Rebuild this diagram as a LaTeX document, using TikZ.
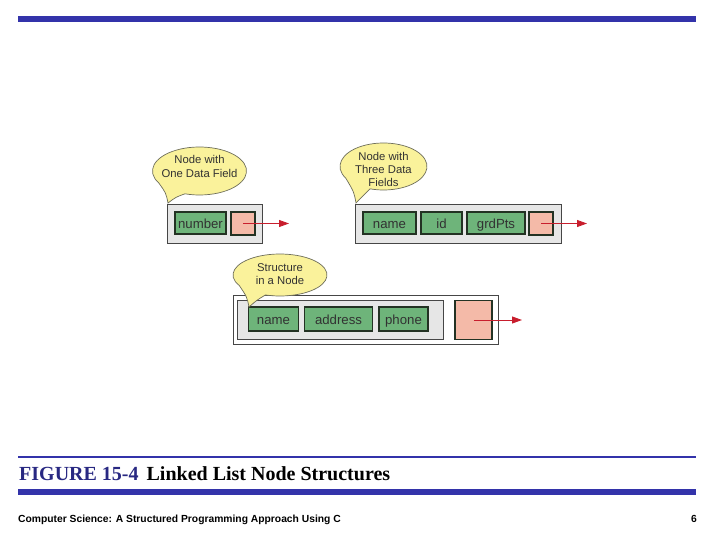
\documentclass[tikz,border=0pt]{standalone}
\usepackage{fontspec}
\setmainfont{Liberation Serif}
\setsansfont{Liberation Sans}
\usetikzlibrary{arrows.meta}
\definecolor{barblue}{RGB}{51,51,170}
\definecolor{capblue}{RGB}{40,40,130}
\definecolor{boxgray}{RGB}{230,230,230}
\definecolor{boxline}{RGB}{70,70,70}
\definecolor{fldgreen}{RGB}{110,180,122}
\definecolor{fldline}{RGB}{35,50,35}
\definecolor{ptrpink}{RGB}{244,186,168}
\definecolor{bubyellow}{RGB}{250,242,155}
\definecolor{bubline}{RGB}{110,110,90}
\definecolor{arrred}{RGB}{200,30,45}
\definecolor{txtgray}{RGB}{50,50,50}
\tikzset{
  outerbox/.style={draw=boxline, fill=boxgray, line width=0.9pt, inner sep=0pt},
  fld/.style={draw=fldline, fill=fldgreen, line width=1.1pt, inner sep=0pt,
    minimum height=22pt, text height=12pt, text depth=1pt,
    font=\sffamily\fontsize{13.2}{13}\selectfont, text=txtgray},
  ptr/.style={draw=fldline, fill=ptrpink, line width=1.1pt, inner sep=0pt},
  link/.style={draw=arrred, line width=0.9pt, -{Triangle[length=10pt,width=7pt]}},
  bubble/.style={draw=bubline, fill=bubyellow, line width=0.7pt},
  bubtext/.style={font=\sffamily\fontsize{11.3}{13.3}\selectfont, text=txtgray, align=center, inner sep=0pt},
}
\begin{document}
\begin{tikzpicture}[x=1pt,y=-1pt]
\useasboundingbox (0,0) rectangle (720,540);
% top bar
\fill[barblue] (18,16) rectangle (696,22);
% ---------- node 1 ----------
\node[outerbox, minimum width=95pt, minimum height=39pt] (n1) at (214.5,223.5) {};
\node[fld, minimum width=51pt] (n1num) at (200.5,223) {number};
\node[ptr, minimum width=24pt, minimum height=23pt] (n1ptr) at (243,223.5) {};
\coordinate (n1end) at (289,223.5);
\draw[link] (n1ptr.center) -- (n1end);
% ---------- node 2 ----------
\node[outerbox, minimum width=206pt, minimum height=39pt] (n2) at (458,223.5) {};
\node[fld, minimum width=53pt] (n2name) at (389.5,223) {name};
\node[fld, minimum width=41pt] (n2id) at (441.5,223) {id};
\node[fld, minimum width=58pt] (n2grd) at (496,223) {grdPts};
\node[ptr, minimum width=24pt, minimum height=23pt] (n2ptr) at (541,223.5) {};
\coordinate (n2end) at (587,223.5);
\draw[link] (n2ptr.center) -- (n2end);
% ---------- node 3 ----------
\node[outerbox, fill=white, minimum width=265pt, minimum height=49pt] (n3) at (365.5,319.5) {};
\node[outerbox, minimum width=206pt, minimum height=39pt] (n3s) at (340,319.5) {};
\node[fld, minimum width=50pt, minimum height=24pt] (n3name) at (273.5,319) {name};
\node[fld, minimum width=68pt, minimum height=24pt] (n3addr) at (338.5,319) {address};
\node[fld, minimum width=49pt, minimum height=24pt] (n3ph) at (403.5,319) {phone};
\node[ptr, minimum width=37pt, minimum height=39pt] (n3ptr) at (473.5,320) {};
\coordinate (n3end) at (522,320);
\draw[link] (n3ptr.center) -- (n3end);
% ---------- bubbles ----------
% bubble 1
\coordinate (b1c) at (199.5,171);
\coordinate (b1t) at (168,203);
\draw[bubble] (b1c) ++(150:47 and 24) arc[start angle=150, end angle=468, x radius=47, y radius=24]
  .. controls (176,197) .. (b1t) .. controls (166,193) .. cycle;
\node[bubtext] (b1) at (199.5,166.5) {Node with\\One Data Field};
% bubble 2
\coordinate (b2c) at (383.5,166.5);
\coordinate (b2t) at (356,203);
\draw[bubble] (b2c) ++(150:43.5 and 23.5) arc[start angle=150, end angle=468, x radius=43.5, y radius=23.5]
  .. controls (363,196) .. (b2t) .. controls (354,192) .. cycle;
\node[bubtext] (b2) at (383.5,169.5) {Node with\\Three Data\\Fields};
% bubble 3
\coordinate (b3c) at (280,275);
\coordinate (b3t) at (249,307);
\draw[bubble] (b3c) ++(150:47 and 21) arc[start angle=150, end angle=468, x radius=47, y radius=21]
  .. controls (257,300) .. (b3t) .. controls (247,297) .. cycle;
\node[bubtext] (b3) at (280,274) {Structure\\in a Node};
% ---------- caption ----------
\fill[barblue] (18,456) rectangle (696,458);
\node[anchor=base west, inner sep=0pt, font=\bfseries\fontsize{20}{20}\selectfont] (cap) at (19,480)
  {\textcolor{capblue}{FIGURE 15-4}\hspace{8pt}Linked List Node Structures};
\fill[barblue] (18,489) rectangle (696,495);
% ---------- footer ----------
\node[anchor=base west, inner sep=0pt, font=\sffamily\bfseries\fontsize{10.3}{11}\selectfont] (foot) at (18,522)
  {Computer Science: A Structured Programming Approach Using C};
\node[anchor=base east, inner sep=0pt, font=\sffamily\bfseries\fontsize{10.3}{11}\selectfont] (pg) at (697,522) {6};
\end{tikzpicture}
\end{document}
